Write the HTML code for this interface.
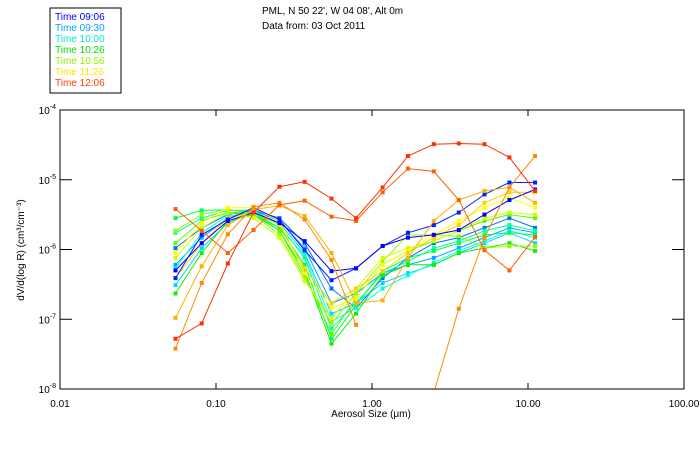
<!DOCTYPE html>
<html><head><meta charset="utf-8">
<style>
body{margin:0;background:#fff;}
svg{display:block;font-family:"Liberation Sans",sans-serif;}
</style></head>
<body>
<svg id="chart" width="700" height="450" viewBox="0 0 700 450">
  <g>
    <rect x="50" y="8" width="71" height="85" fill="#fff" stroke="#000" stroke-width="1"/>
    <text x="55" y="20" font-size="10" fill="#0000ff">Time 09:06</text>
    <text x="55" y="31" font-size="10" fill="#00a0ff">Time 09:30</text>
    <text x="55" y="42" font-size="10" fill="#00e8d0">Time 10:00</text>
    <text x="55" y="53" font-size="10" fill="#00e000">Time 10:26</text>
    <text x="55" y="64" font-size="10" fill="#90f000">Time 10:56</text>
    <text x="55" y="75" font-size="10" fill="#ffe000">Time 11:26</text>
    <text x="55" y="86" font-size="10" fill="#ff4000">Time 12:06</text>
  </g>
  <text x="262" y="14" font-size="10" fill="#000">PML, N 50 22', W 04 08', Alt 0m</text>
  <text x="262" y="29" font-size="10" fill="#000">Data from: 03 Oct 2011</text>
  <g id="axes"></g>
  <defs><clipPath id="plotclip"><rect x="60" y="110" width="624" height="279"/></clipPath></defs>
  <g id="series" clip-path="url(#plotclip)"></g>
  <rect x="60" y="110" width="624" height="279" fill="none" stroke="#000" stroke-width="1"/>
  <text x="371" y="417" font-size="10" text-anchor="middle" fill="#000">Aerosol Size (μm)</text>
  <text transform="translate(24,250) rotate(-90)" font-size="10" text-anchor="middle" fill="#000">dV/d(log R) (cm³/cm⁻³)</text>
</svg>
<script>
// Aerosol size bins (micrometres)
const sizes = [0.055,0.081,0.119,0.174,0.255,0.37,0.55,0.79,1.17,1.7,2.49,3.6,5.26,7.6,11.1];
// log10 of dV/d(log R) per series
const sBlue1 = [-6.30,-5.91,-5.59,-5.47,-5.62,-5.88,-6.31,-6.27,-5.95,-5.83,-5.79,-5.72,-5.50,-5.29,-5.14];
const sBlue2 = [-6.41,-5.79,-5.57,-5.40,-5.57,-6.01,-6.44,-6.27,-5.95,-5.76,-5.65,-5.47,-5.21,-5.04,-5.04];
const sC1 = [-5.98,-5.69,-5.50,-5.44,-5.55,-5.91,-6.56,-6.84,-6.41,-6.12,-5.91,-5.83,-5.69,-5.55,-5.69];
const sC2 = [-6.22,-5.83,-5.55,-5.44,-5.59,-5.98,-6.77,-6.63,-6.34,-6.22,-6.12,-5.98,-5.83,-5.69,-5.76];
const sC3 = [-6.51,-5.98,-5.62,-5.47,-5.62,-6.05,-6.92,-6.77,-6.48,-6.34,-6.22,-6.05,-5.91,-5.76,-5.91];
const sC4 = [-6.27,-5.76,-5.52,-5.50,-5.69,-6.08,-7.03,-6.84,-6.56,-6.37,-6.19,-6.02,-5.88,-5.73,-5.83];
const sC5 = [-5.76,-5.55,-5.44,-5.44,-5.65,-6.12,-7.13,-6.77,-6.34,-6.17,-5.98,-5.88,-5.73,-5.65,-5.73];
const sC6 = [-5.55,-5.44,-5.43,-5.47,-5.69,-6.22,-7.28,-6.80,-6.31,-6.12,-6.02,-5.91,-5.79,-5.76,-5.79];
const sC7 = [-6.63,-6.05,-5.59,-5.50,-5.73,-6.31,-7.35,-6.92,-6.37,-6.22,-6.22,-6.05,-5.98,-5.91,-6.02];
const sC8 = [-5.91,-5.59,-5.47,-5.47,-5.73,-6.37,-7.21,-6.70,-6.22,-6.02,-5.88,-5.73,-5.59,-5.50,-5.55];
const sC9 = [-5.73,-5.50,-5.42,-5.50,-5.79,-6.41,-7.06,-6.63,-6.17,-5.79,-5.79,-5.81,-5.98,-5.95,-5.95];
const sC10 = [-6.12,-5.69,-5.47,-5.55,-5.83,-6.45,-6.99,-6.56,-6.12,-5.98,-5.88,-5.73,-5.55,-5.47,-5.50];
const sC11 = [-6.05,-5.62,-5.40,-5.40,-5.59,-6.34,-6.84,-6.70,-6.22,-6.02,-5.79,-5.59,-5.40,-5.26,-5.40];
const sC12 = [-6.41,-5.91,-5.55,-5.47,-5.65,-6.27,-6.77,-6.56,-6.31,-6.05,-5.83,-5.65,-5.33,-5.18,-5.18];
const sLtOrange = [-6.98,-6.24,-5.65,-5.43,-5.37,-5.52,-6.05,-6.77,-6.73,-6.12,-5.59,-5.29,-5.16,-5.11,-5.33];
const sOrange = [-7.42,-6.48,-5.78,-5.39,-5.33,-5.57,-6.15,-7.08,null,null,-8.05,-6.85,-5.83,-5.11,-4.66];
const sDkOrange = [-5.42,-5.73,-6.05,-5.72,-5.36,-5.30,-5.53,-5.59,-5.18,-4.84,-4.88,-5.29,-6.01,-6.30,-5.82];
const sRed = [-7.28,-7.06,-6.20,-5.47,-5.10,-5.03,-5.27,-5.55,-5.11,-4.66,-4.49,-4.48,-4.49,-4.68,-5.16];
// tick labels
const xTickVals = [0.01,0.1,1,10,100];
const xTickLabels = ["0.01","0.10","1.00","10.00","100.00"];
const yTickExps = [-4,-5,-6,-7,-8];

const X0=60, X1=684, Y0=110, Y1=389;
function xScale(v){ return X0 + (Math.log10(v)+2)/4*(X1-X0); }
function yScale(e){ return Y0 + (-4 - e)/4*(Y1-Y0); }

const NS="http://www.w3.org/2000/svg";
const axes=document.getElementById('axes');
xTickVals.forEach((v,i)=>{
  const x=xScale(v);
  const t=document.createElementNS(NS,'line');
  t.setAttribute('x1',x);t.setAttribute('x2',x);t.setAttribute('y1',Y1);t.setAttribute('y2',Y1-6);
  t.setAttribute('stroke','#000');
  
  
  axes.appendChild(t);
  const t2=document.createElementNS(NS,'line');
  t2.setAttribute('x1',x);t2.setAttribute('x2',x);t2.setAttribute('y1',Y0);t2.setAttribute('y2',Y0+6);
  t2.setAttribute('stroke','#000');
  
  
  axes.appendChild(t2);
  const l=document.createElementNS(NS,'text');
  l.setAttribute('x',x);l.setAttribute('y',Y1+18);l.setAttribute('font-size','10');l.setAttribute('text-anchor','middle');
  l.textContent=xTickLabels[i];
  
  
  axes.appendChild(l);
});
yTickExps.forEach(e=>{
  const y=yScale(e);
  const t=document.createElementNS(NS,'line');
  t.setAttribute('x1',X0);t.setAttribute('x2',X0+12);t.setAttribute('y1',y);t.setAttribute('y2',y);
  t.setAttribute('stroke','#000');
  
  
  axes.appendChild(t);
  const t2=document.createElementNS(NS,'line');
  t2.setAttribute('x1',X1);t2.setAttribute('x2',X1-12);t2.setAttribute('y1',y);t2.setAttribute('y2',y);
  t2.setAttribute('stroke','#000');
  
  
  axes.appendChild(t2);
  const l=document.createElementNS(NS,'text');
  l.setAttribute('x',X0-4);l.setAttribute('y',y+4);l.setAttribute('font-size','10');l.setAttribute('text-anchor','end');
  l.innerHTML='10<tspan font-size="7" dy="-5">'+e+'</tspan>';
  
  
  axes.appendChild(l);
});

const seriesList=[
  [sC1,'#0070ff'],[sC2,'#00a8ff'],[sC3,'#00d8ff'],[sC4,'#00ffe0'],[sC5,'#00ffa0'],
  [sC6,'#00ff50'],[sC7,'#10f000'],[sC8,'#50ff00'],[sC9,'#90ff00'],[sC10,'#d0ff00'],
  [sC11,'#ffff00'],[sC12,'#ffd000'],[sBlue2,'#0020ff'],[sBlue1,'#0000ff'],
  [sLtOrange,'#ffb000'],[sOrange,'#ff8c00'],[sDkOrange,'#ff6000'],[sRed,'#ff3000']
];
const sg=document.getElementById('series');
seriesList.forEach((s,si)=>{
  const vals=s[0], col=s[1];
  let d='', pen=false;
  vals.forEach((e,i)=>{
    if(e===null){pen=false;return;}
    d+=(pen?'L':'M')+xScale(sizes[i]).toFixed(1)+' '+yScale(e).toFixed(1);
    pen=true;
  });
  const p=document.createElementNS(NS,'path');
  p.setAttribute('d',d);p.setAttribute('fill','none');p.setAttribute('stroke',col);p.setAttribute('stroke-width','1');
  
  
  sg.appendChild(p);
  vals.forEach((e,i)=>{
    if(e===null)return;
    const r=document.createElementNS(NS,'rect');
    r.setAttribute('x',xScale(sizes[i])-2);r.setAttribute('y',yScale(e)-2);
    r.setAttribute('width',4);r.setAttribute('height',4);r.setAttribute('fill',col);
    
    
    sg.appendChild(r);
  });
});
</script>
</body></html>
